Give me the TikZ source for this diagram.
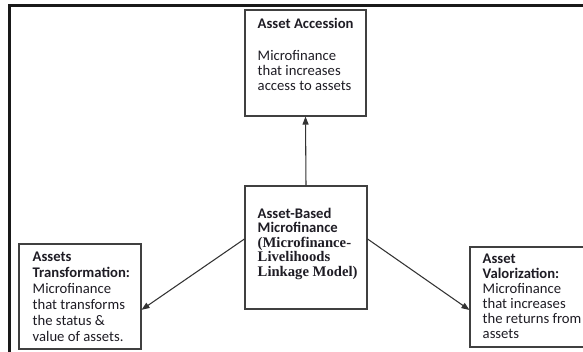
\documentclass[tikz,border=0pt]{standalone}
\usepackage{fontspec}
\setmainfont{Carlito}
\newfontfamily\serifbold{Liberation Serif}
\usetikzlibrary{arrows.meta,calc}

\definecolor{inkdark}{RGB}{30,28,36}
\tikzstyle{box}=[draw,black!75,line width=0.8pt,inner sep=0pt]
\tikzstyle{boxtext}=[anchor=north west,inner sep=0pt,align=left,text=inkdark,font=\fontsize{11pt}{11.6pt}\selectfont]
\tikzstyle{edge}=[draw,black!80,line width=0.8pt,-{Triangle[length=6pt,width=4.5pt]}]

\begin{document}
\begin{tikzpicture}[x=0.75pt,y=-0.75pt]
    \clip (0,0) rectangle (583,351);
    \useasboundingbox (0,0) rectangle (583,351);
    \draw[line width=1.6pt,black!90] (9.5,5.5) rectangle (640,400);

    \node (acc)[box,minimum width=90.75pt,minimum height=79.5pt] at (305.5,63) {};
    \node (base)[box,minimum width=91.5pt,minimum height=92.25pt] at (306,247.5) {};
    \node (trans)[box,minimum width=91.5pt,minimum height=78.75pt] at (80,296.5) {};
    \node (val)[box,minimum width=91.5pt,minimum height=75pt] at (531,297) {};

    \node (acctext)[boxtext] at ($(acc.north west)+(13,8)$)
        {\textbf{Asset Accession}\\[12.4pt]Microfinance\\that increases\\access to assets};
    \node (basetext)[boxtext,font=\fontsize{11pt}{10.9pt}\selectfont] at ($(base.north west)+(13,22)$)
        {\textbf{Asset-Based}\\\textbf{Microfinance}\\{\serifbold\bfseries (Microfinance-}\\{\serifbold\bfseries Livelihoods}\\{\serifbold\bfseries Linkage Model)}};
    \node (transtext)[boxtext,font=\fontsize{11pt}{12pt}\selectfont] at ($(trans.north west)+(14,8)$)
        {\textbf{Assets}\\\textbf{Transformation:}\\Microfinance\\that transforms\\the status \&\\value of assets.};
    \node (valtext)[boxtext,font=\fontsize{11pt}{11.3pt}\selectfont] at ($(val.north west)+(13,7)$)
        {\textbf{Asset}\\\textbf{Valorization:}\\Microfinance\\that increases\\the returns from\\assets};

    \draw[edge] (base.north) -- (acc.south);
    \draw[edge] ([yshift=6.4pt]base.west) -- ([yshift=-10pt]trans.east);
    \draw[edge] ([yshift=6.4pt]base.east) -- ([yshift=-9.75pt]val.west);
\end{tikzpicture}
\end{document}
